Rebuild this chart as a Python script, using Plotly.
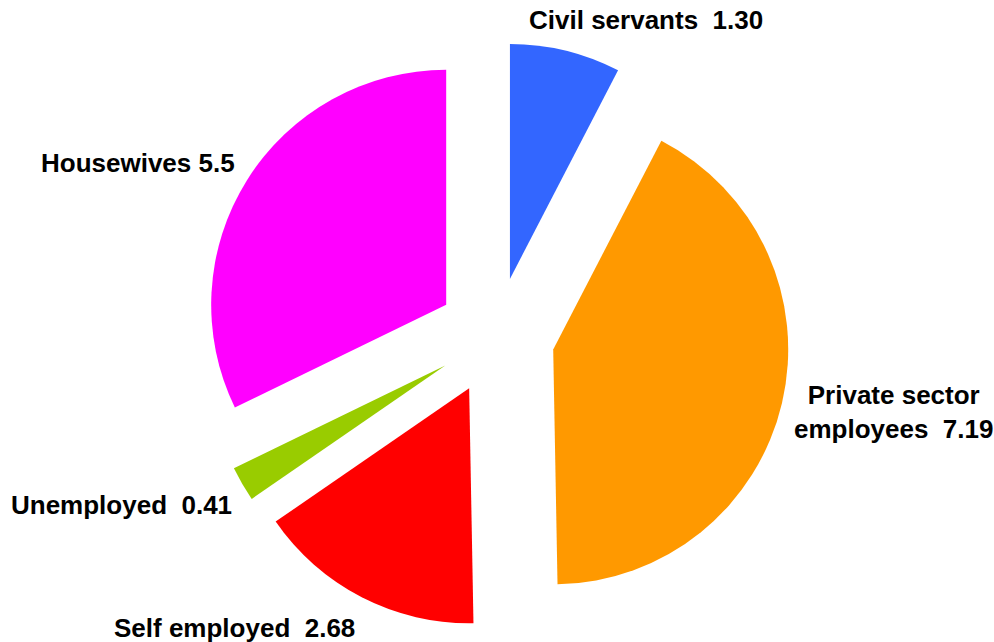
import plotly.graph_objects as go

# Population groups (millions) shown as an exploded pie
categories = ["Civil servants", "Private sector employees", "Self employed", "Unemployed", "Housewives"]
value_labels = ["1.30", "7.19", "2.68", "0.41", "5.5"]
values = [float(v) for v in value_labels]
colors = ["#3366FF", "#FF9900", "#FF0000", "#99CC00", "#FF00FF"]

W, H = 994, 642

fig = go.Figure(
    go.Pie(
        labels=categories,
        values=values,
        sort=False,
        direction="clockwise",
        rotation=0,
        pull=[0.25] * len(values),
        marker=dict(colors=colors, line=dict(width=0)),
        textinfo="none",
        hoverinfo="label+value",
        showlegend=False,
        domain=dict(x=[0, 992 / W], y=[1 - 629.75 / H, 1 - 42.25 / H]),
    )
)

# Label text, placed beside each slice (pixel positions of label centres)
label_text = [
    f"Civil servants\u00a0 {value_labels[0]}",
    f"Private sector<br>employees\u00a0 {value_labels[1]}",
    f"Self employed\u00a0 {value_labels[2]}",
    f"Unemployed\u00a0 {value_labels[3]}",
    f"Housewives {value_labels[4]}",
]
label_pos = [(646, 20), (893, 412), (234, 628), (121, 505), (138, 163)]

for txt, (px, py) in zip(label_text, label_pos):
    fig.add_annotation(
        x=px / W, y=1 - py / H, xref="paper", yref="paper",
        text=f"<b>{txt}</b>", showarrow=False,
        xanchor="center", yanchor="middle", align="center",
        font=dict(family="Liberation Sans, Arial, sans-serif", size=26, color="black"),
    )

fig.update_layout(
    width=W, height=H,
    margin=dict(l=0, r=0, t=0, b=0),
    paper_bgcolor="white",
    plot_bgcolor="white",
)

fig.write_html("out.html")
